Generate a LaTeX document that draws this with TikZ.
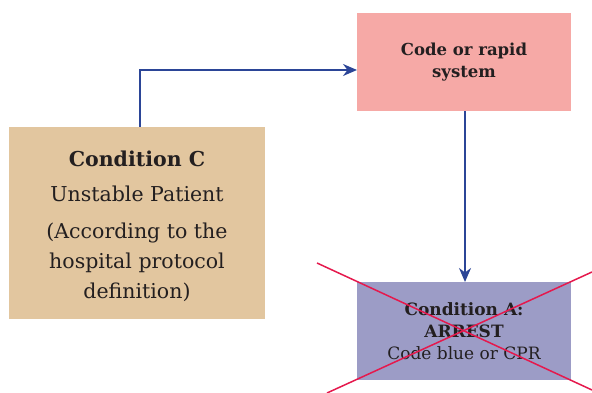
\documentclass[tikz,border=0pt]{standalone}
\usepackage{fontspec}
\setmainfont{DejaVu Serif}
\usetikzlibrary{arrows.meta}
\definecolor{tanbox}{HTML}{E2C69F}
\definecolor{pinkbox}{HTML}{F6A9A6}
\definecolor{purplebox}{HTML}{9C9CC6}
\definecolor{arrowblue}{HTML}{2B4597}
\definecolor{crossred}{HTML}{E5194D}
\definecolor{txt}{HTML}{231F20}
\tikzset{
  box/.style={draw=none, inner sep=0pt, align=center, text=txt},
  conn/.style={draw=arrowblue, line width=1.8pt, -{Stealth[length=14pt,width=12pt]}},
  crossline/.style={draw=crossred, line width=1.5pt}
}
\begin{document}
\begin{tikzpicture}[x=1pt,y=-1pt]
\useasboundingbox (0,0) rectangle (592,393);
% Condition C
\node[box, fill=tanbox, minimum width=256pt, minimum height=192pt, anchor=north west] (c) at (9,127) {};
\node[box, anchor=center, font=\fontsize{20.5}{30}\selectfont] (ctext) at (137,226.5)
  {\textbf{Condition C}\\[5pt] Unstable Patient\\[7pt] (According to the\\ hospital protocol\\ definition)};
% Code or rapid system
\node[box, fill=pinkbox, minimum width=214pt, minimum height=98pt, anchor=north west] (code) at (357,13) {};
\node[box, font=\bfseries\fontsize{16.5}{22}\selectfont] (codetext) at (464,62) {Code or rapid\\ system};
% Condition A
\node[box, fill=purplebox, minimum width=214pt, minimum height=98pt, anchor=north west] (arrest) at (357,282) {};
\node[box, font=\fontsize{17}{22}\selectfont] (arresttext) at (464,331) {\textbf{Condition A:}\\ \textbf{ARREST}\\ Code blue or CPR};
% connectors
\coordinate (bend) at (140,70);
\draw[conn] (c.north -| bend) -- (bend) -- (code.west |- bend);
\draw[conn] (code.south -| 465,0) -- (arrest.north -| 465,0);
% cross
\coordinate (x1) at (317,263);
\coordinate (x2) at (592,390);
\coordinate (x3) at (327,393);
\coordinate (x4) at (592,272);
\draw[crossline] (x1) -- (x2);
\draw[crossline] (x3) -- (x4);
\end{tikzpicture}
\end{document}
